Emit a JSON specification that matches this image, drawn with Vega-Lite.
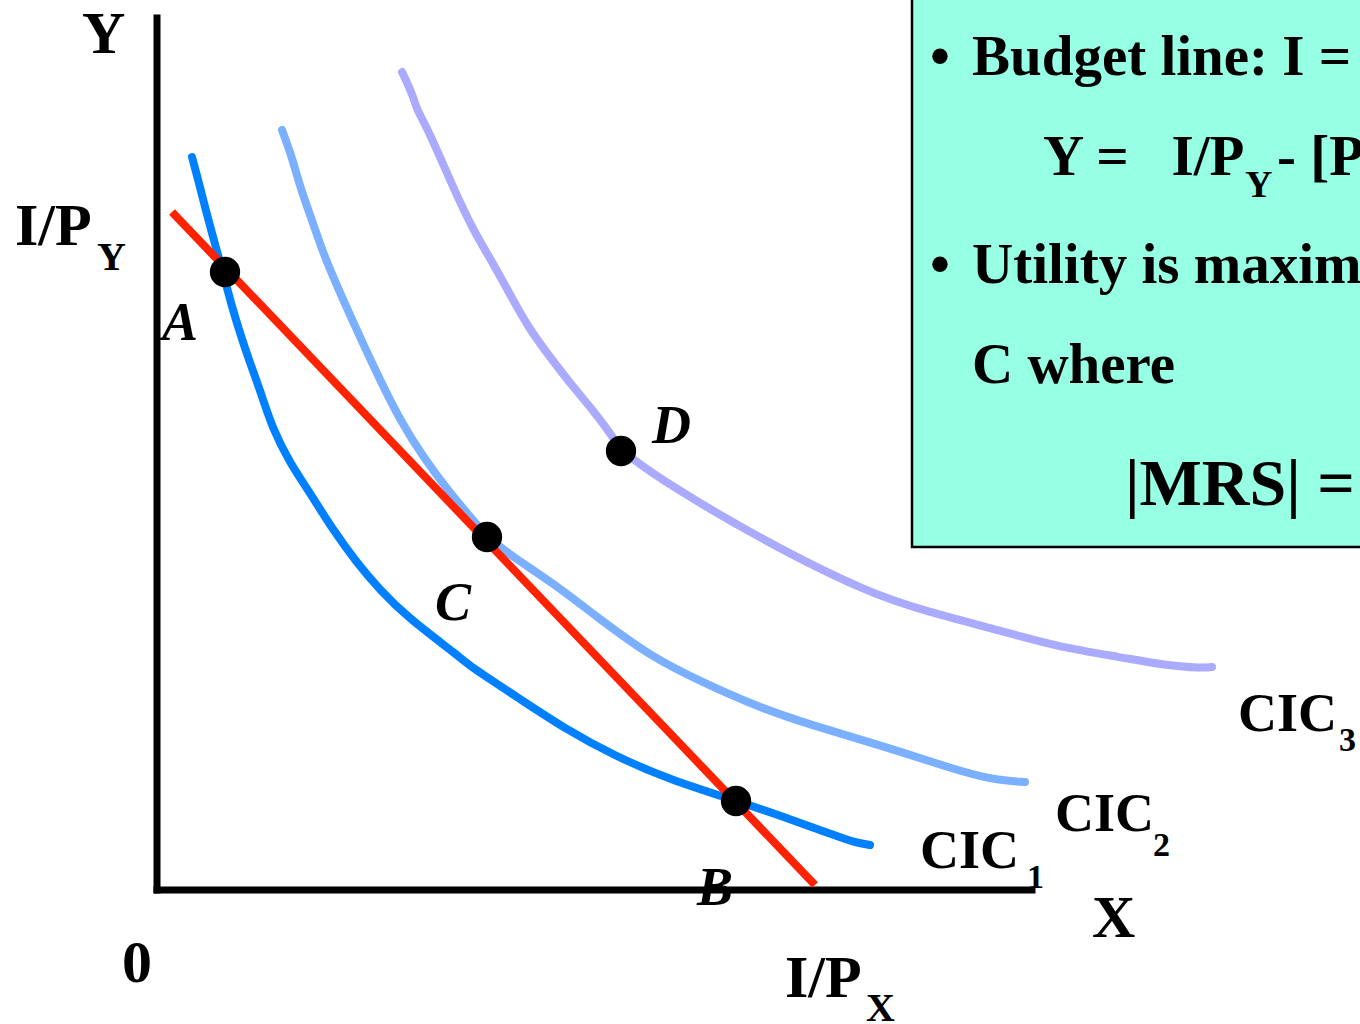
{
  "$schema": "https://vega.github.io/schema/vega-lite/v6.json",
  "width": 1360,
  "height": 1024,
  "padding": 0,
  "autosize": {"type": "none"},
  "background": "white",
  "config": {"view": {"stroke": null}},
  "datasets": {
    "box": [{"x": 755, "x2": 1260, "y": 343, "y2": 910}],
    "axes": [
      {"name": "Y axis", "x": 0, "x2": 0, "y": 0, "y2": 872},
      {"name": "X axis", "x": 0, "x2": 875, "y": 0, "y2": 0}
    ],
    "curves": [
      {"curve": "CIC1", "x": 35, "y": 733}, {"curve": "CIC1", "x": 43, "y": 703}, {"curve": "CIC1", "x": 48, "y": 683},
      {"curve": "CIC1", "x": 56, "y": 653}, {"curve": "CIC1", "x": 66, "y": 617}, {"curve": "CIC1", "x": 75, "y": 583},
      {"curve": "CIC1", "x": 83, "y": 557}, {"curve": "CIC1", "x": 93, "y": 527}, {"curve": "CIC1", "x": 103, "y": 500},
      {"curve": "CIC1", "x": 116, "y": 460}, {"curve": "CIC1", "x": 133, "y": 427}, {"curve": "CIC1", "x": 153, "y": 397},
      {"curve": "CIC1", "x": 176, "y": 360}, {"curve": "CIC1", "x": 200, "y": 327}, {"curve": "CIC1", "x": 223, "y": 300},
      {"curve": "CIC1", "x": 250, "y": 273}, {"curve": "CIC1", "x": 303, "y": 233}, {"curve": "CIC1", "x": 314, "y": 223},
      {"curve": "CIC1", "x": 360, "y": 193}, {"curve": "CIC1", "x": 410, "y": 160}, {"curve": "CIC1", "x": 456, "y": 135},
      {"curve": "CIC1", "x": 513, "y": 110}, {"curve": "CIC1", "x": 580, "y": 89}, {"curve": "CIC1", "x": 627, "y": 73},
      {"curve": "CIC1", "x": 677, "y": 55}, {"curve": "CIC1", "x": 696, "y": 48}, {"curve": "CIC1", "x": 713, "y": 45},
      {"curve": "CIC2", "x": 125, "y": 760}, {"curve": "CIC2", "x": 135, "y": 733}, {"curve": "CIC2", "x": 143, "y": 703},
      {"curve": "CIC2", "x": 155, "y": 670}, {"curve": "CIC2", "x": 166, "y": 637}, {"curve": "CIC2", "x": 183, "y": 597},
      {"curve": "CIC2", "x": 203, "y": 553}, {"curve": "CIC2", "x": 223, "y": 510}, {"curve": "CIC2", "x": 243, "y": 470},
      {"curve": "CIC2", "x": 266, "y": 433}, {"curve": "CIC2", "x": 293, "y": 397}, {"curve": "CIC2", "x": 316, "y": 370},
      {"curve": "CIC2", "x": 330, "y": 353}, {"curve": "CIC2", "x": 356, "y": 333}, {"curve": "CIC2", "x": 396, "y": 307},
      {"curve": "CIC2", "x": 440, "y": 273}, {"curve": "CIC2", "x": 494, "y": 233}, {"curve": "CIC2", "x": 547, "y": 207},
      {"curve": "CIC2", "x": 601, "y": 183}, {"curve": "CIC2", "x": 654, "y": 165}, {"curve": "CIC2", "x": 723, "y": 145},
      {"curve": "CIC2", "x": 799, "y": 120}, {"curve": "CIC2", "x": 837, "y": 110}, {"curve": "CIC2", "x": 868, "y": 108},
      {"curve": "CIC3", "x": 245, "y": 818}, {"curve": "CIC3", "x": 255, "y": 797}, {"curve": "CIC3", "x": 260, "y": 780},
      {"curve": "CIC3", "x": 266, "y": 770}, {"curve": "CIC3", "x": 280, "y": 740}, {"curve": "CIC3", "x": 296, "y": 703},
      {"curve": "CIC3", "x": 316, "y": 660}, {"curve": "CIC3", "x": 336, "y": 627}, {"curve": "CIC3", "x": 356, "y": 590},
      {"curve": "CIC3", "x": 373, "y": 560}, {"curve": "CIC3", "x": 393, "y": 533}, {"curve": "CIC3", "x": 416, "y": 503},
      {"curve": "CIC3", "x": 436, "y": 480}, {"curve": "CIC3", "x": 456, "y": 453}, {"curve": "CIC3", "x": 464, "y": 439},
      {"curve": "CIC3", "x": 509, "y": 407}, {"curve": "CIC3", "x": 605, "y": 350}, {"curve": "CIC3", "x": 711, "y": 297},
      {"curve": "CIC3", "x": 772, "y": 278}, {"curve": "CIC3", "x": 830, "y": 263}, {"curve": "CIC3", "x": 901, "y": 243},
      {"curve": "CIC3", "x": 963, "y": 233}, {"curve": "CIC3", "x": 1013, "y": 224}, {"curve": "CIC3", "x": 1043, "y": 222},
      {"curve": "CIC3", "x": 1055, "y": 223}
    ],
    "budget": [{"x": 15, "y": 678}, {"x": 658, "y": 5}],
    "points": [
      {"point": "A", "x": 68, "y": 618},
      {"point": "C", "x": 330, "y": 353},
      {"point": "D", "x": 464, "y": 439},
      {"point": "B", "x": 579, "y": 89}
    ],
    "labels": [
      {"kind": "point", "text": "A", "x": 5, "y": 550},
      {"kind": "point", "text": "B", "x": 540, "y": -15},
      {"kind": "point", "text": "C", "x": 278, "y": 270},
      {"kind": "point", "text": "D", "x": 495, "y": 447},
      {"kind": "axis", "text": "Y", "x": -75, "y": 837},
      {"kind": "axis", "text": "X", "x": 935, "y": -47},
      {"kind": "axis", "text": "0", "x": -35, "y": -92},
      {"kind": "axis", "text": "I/P", "x": -142, "y": 645},
      {"kind": "axissub", "text": "Y", "x": -60, "y": 620},
      {"kind": "axis", "text": "I/P", "x": 628, "y": -107},
      {"kind": "axissub", "text": "X", "x": 709, "y": -131},
      {"kind": "curve", "text": "CIC", "x": 763, "y": 22},
      {"kind": "curvesub", "text": "1", "x": 870, "y": 2},
      {"kind": "curve", "text": "CIC", "x": 898, "y": 59},
      {"kind": "curvesub", "text": "2", "x": 996, "y": 34},
      {"kind": "curve", "text": "CIC", "x": 1081, "y": 159},
      {"kind": "curvesub", "text": "3", "x": 1182, "y": 139},
      {"kind": "box", "text": "•", "x": 773, "y": 815},
      {"kind": "box", "text": "Budget line: I = P", "x": 815, "y": 815},
      {"kind": "box", "text": "Y =\u00a0\u00a0\u00a0I/P", "x": 886, "y": 715},
      {"kind": "boxsub", "text": "Y", "x": 1088, "y": 693},
      {"kind": "box", "text": "- [P", "x": 1120, "y": 715},
      {"kind": "box", "text": "•", "x": 773, "y": 607},
      {"kind": "box", "text": "Utility is maximized at point", "x": 815, "y": 607},
      {"kind": "box", "text": "C where", "x": 815, "y": 507},
      {"kind": "mrs", "text": "|MRS| = P", "x": 968, "y": 385}
    ]
  },
  "encoding": {
    "x": {"field": "x", "type": "quantitative", "axis": null, "scale": {"domain": [-157, 1203], "nice": false, "zero": false}},
    "y": {"field": "y", "type": "quantitative", "axis": null, "scale": {"domain": [-134, 890], "nice": false, "zero": false}}
  },
  "layer": [
    {
      "data": {"name": "box"},
      "mark": {"type": "rect", "fill": "#96FFE4", "stroke": "black", "strokeWidth": 2.5},
      "encoding": {
        "x2": {"field": "x2"},
        "y2": {"field": "y2"}
      }
    },
    {
      "data": {"name": "axes"},
      "mark": {"type": "rule", "color": "black", "strokeWidth": 7, "strokeCap": "square"},
      "encoding": {
        "x2": {"field": "x2"},
        "y2": {"field": "y2"}
      }
    },
    {
      "data": {"name": "curves"},
      "mark": {"type": "line", "strokeWidth": 8, "strokeCap": "round", "strokeJoin": "round", "interpolate": "basis"},
      "encoding": {
        "color": {"field": "curve", "type": "nominal", "legend": null,
          "scale": {"domain": ["CIC1", "CIC2", "CIC3"], "range": ["#0080FF", "#7AB0FF", "#AAAAFF"]}}
      }
    },
    {
      "data": {"name": "budget"},
      "mark": {"type": "line", "color": "#FF2200", "strokeWidth": 8, "strokeCap": "butt"},
      "encoding": {}
    },
    {
      "data": {"name": "points"},
      "mark": {"type": "circle", "color": "black", "opacity": 1, "size": 920},
      "encoding": {}
    },
    {
      "data": {"name": "labels"},
      "transform": [{"filter": "datum.kind === 'point'"}],
      "mark": {"type": "text", "align": "left", "baseline": "alphabetic", "font": "Liberation Serif", "fontSize": 54, "fontWeight": "bold", "fontStyle": "italic", "color": "black"},
      "encoding": {"text": {"field": "text"}}
    },
    {
      "data": {"name": "labels"},
      "transform": [{"filter": "datum.kind === 'axis'"}],
      "mark": {"type": "text", "align": "left", "baseline": "alphabetic", "font": "Liberation Serif", "fontSize": 60, "fontWeight": "bold", "color": "black"},
      "encoding": {"text": {"field": "text"}}
    },
    {
      "data": {"name": "labels"},
      "transform": [{"filter": "datum.kind === 'axissub'"}],
      "mark": {"type": "text", "align": "left", "baseline": "alphabetic", "font": "Liberation Serif", "fontSize": 40, "fontWeight": "bold", "color": "black"},
      "encoding": {"text": {"field": "text"}}
    },
    {
      "data": {"name": "labels"},
      "transform": [{"filter": "datum.kind === 'curve'"}],
      "mark": {"type": "text", "align": "left", "baseline": "alphabetic", "font": "Liberation Serif", "fontSize": 54, "fontWeight": "bold", "color": "black"},
      "encoding": {"text": {"field": "text"}}
    },
    {
      "data": {"name": "labels"},
      "transform": [{"filter": "datum.kind === 'curvesub'"}],
      "mark": {"type": "text", "align": "left", "baseline": "alphabetic", "font": "Liberation Serif", "fontSize": 34, "fontWeight": "bold", "color": "black"},
      "encoding": {"text": {"field": "text"}}
    },
    {
      "data": {"name": "labels"},
      "transform": [{"filter": "datum.kind === 'box'"}],
      "mark": {"type": "text", "align": "left", "baseline": "alphabetic", "font": "Liberation Serif", "fontSize": 57, "fontWeight": "bold", "color": "black"},
      "encoding": {"text": {"field": "text"}}
    },
    {
      "data": {"name": "labels"},
      "transform": [{"filter": "datum.kind === 'boxsub'"}],
      "mark": {"type": "text", "align": "left", "baseline": "alphabetic", "font": "Liberation Serif", "fontSize": 38, "fontWeight": "bold", "color": "black"},
      "encoding": {"text": {"field": "text"}}
    },
    {
      "data": {"name": "labels"},
      "transform": [{"filter": "datum.kind === 'mrs'"}],
      "mark": {"type": "text", "align": "left", "baseline": "alphabetic", "font": "Liberation Serif", "fontSize": 66, "fontWeight": "bold", "color": "black"},
      "encoding": {"text": {"field": "text"}}
    }
  ]
}
